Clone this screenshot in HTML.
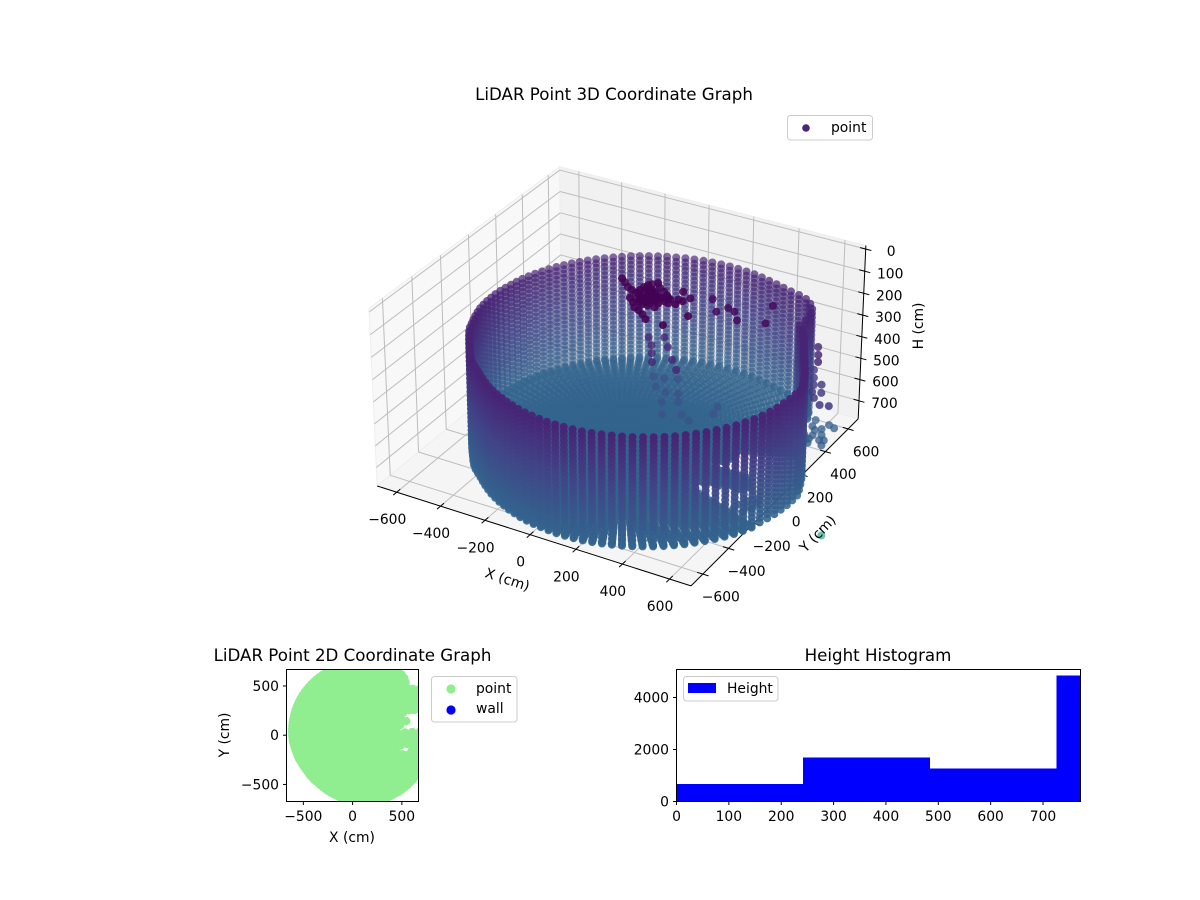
<!DOCTYPE html>
<html lang="en">
<head>
<meta charset="utf-8">
<title>LiDAR Point Graphs</title>
<style>
html,body{margin:0;padding:0;background:#fff;}
svg{display:block;}
text{font-family:"DejaVu Sans","Liberation Sans",sans-serif;font-size:13.89px;fill:#000;}
.title{font-size:16.67px;text-anchor:middle;}
.mid{text-anchor:middle;}
.end{text-anchor:end;}
</style>
</head>
<body>
<svg id="fig" xmlns="http://www.w3.org/2000/svg" width="1200" height="900" viewBox="0 0 1200 900">
  <defs>
    <clipPath id="clip2d"><rect x="286.5" y="669.5" width="132" height="132"/></clipPath>
  </defs>
  <rect x="0" y="0" width="1200" height="900" fill="#fff"/>
  <g id="panes3d"></g>
  <g id="grid3d"></g>
  <g id="axes3d"></g>
  <g id="points3d"></g>
  <text class="title" x="614" y="100">LiDAR Point 3D Coordinate Graph</text>
  <text class="mid" transform="translate(506 584) rotate(18)">X (cm)</text>
  <text class="mid" transform="translate(821 537) rotate(-46)">Y (cm)</text>
  <text class="mid" transform="translate(923 326) rotate(-90)">H (cm)</text>
  <g>
    <rect x="787.5" y="115.5" width="85" height="24.5" rx="3" fill="#fff" fill-opacity="0.8" stroke="#ccc"/>
    <circle cx="806" cy="128" r="3.8" fill="#47277c"/>
    <text x="831" y="132">point</text>
  </g>

  <g clip-path="url(#clip2d)"><g id="points2d"></g></g>
  <rect x="286.5" y="669.5" width="132" height="132" fill="none" stroke="#000" stroke-width="1"/>
  <g id="axes2d"></g>
  <text class="title" x="352.5" y="661">LiDAR Point 2D Coordinate Graph</text>
  <text class="mid" x="352" y="842">X (cm)</text>
  <text class="mid" transform="translate(229 735) rotate(-90)">Y (cm)</text>
  <g>
    <rect x="431.5" y="676.5" width="85.5" height="45.5" rx="3" fill="#fff" stroke="#ccc"/>
    <circle cx="451" cy="689" r="4.6" fill="#90ee90"/>
    <text x="476" y="693">point</text>
    <circle cx="451" cy="710" r="4.6" fill="#0000ff"/>
    <text x="476" y="713">wall</text>
  </g>

  <g id="bars" shape-rendering="crispEdges"></g>
  <rect x="676.5" y="669.5" width="404" height="132" fill="none" stroke="#000" stroke-width="1"/>
  <g id="axesHist"></g>
  <text class="title" x="878" y="661">Height Histogram</text>
  <g>
    <rect x="683.5" y="676.5" width="94.5" height="24.5" rx="3" fill="#fff" fill-opacity="0.8" stroke="#ccc"/>
    <rect x="688" y="683" width="28" height="10" fill="#0000ff"/>
    <text x="727" y="693">Height</text>
  </g>
</svg>
<script>
// ---------- data ----------
const xTicks3d = [-600, -400, -200, 0, 200, 400, 600];
const yTicks3d = [-600, -400, -200, 0, 200, 400, 600];
const zTicks3d = [0, 100, 200, 300, 400, 500, 600, 700];
const wallAngleDeg = [0,3,6,9,12,15,18,21,24,27,30,33,36,39,42,45,48,51,54,57,60,63,66,69,72,75,78,81,84,87,90,93,96,99,102,105,108,111,114,117,120,123,126,129,132,135,138,141,144,147,150,153,156,159,162,165,168,171,174,177,180,183,186,189,192,195,198,201,204,207,210,213,216,219,222,225,228,231,234,237,240,243,246,249,252,255,258,261,264,267,270,273,276,279,282,285,288,291,294,297,300,303,306,309,312,315,318,321,324,327,330,333,336,339,342,345,348,351,354,357];
const wallRadius = [770,759,748,738,727,717,708,702,699,698,699,700,698,696,
  730,761,781,790,791,782,770,762,757,752,749,746,742,738,734,730,725,721,716,712,706,702,697,692,687,683,678,673,669,665,660,656,652,649,645,641,638,635,632,629,625,622,620,618,616,613,611,609,607,603,600,597,595,595,593,589,587,586,586,587,590,593,595,595,596,600,605,610,616,621,627,632,639,645,652,658,664,670,677,684,690,697,703,708,713,718,724,729,733,738,743,747,751,754,758,761,765,768,770,772,773,773,773,772,772,771];
const floorNotchAngleDeg = [0,3,6,9,12,15,18,21,342,345,348,351,354,357];
const floorNotchRadius = [560,540,370,350,420,430,440,450,380,400,430,480,560,580];
const planNotchAngleDeg = [6,9,12,15,18,21,342,345,348,351];
const planNotchRadius = [430,410,490,495,505,515,440,470,500,560];
const ringHeights = [265,285,305,325,345,365,385,405,425,445,465,485,505,525,545,565,585,605,625,645,665,685,705,725,745];
const floorFractions = [0.03,0.05,0.08,0.1,0.13,0.15,0.18,0.2,0.23,0.25,0.28,0.3,0.33,0.35,0.38,0.4,0.43,0.45,0.48,0.5,0.53,0.55,0.58,0.6,0.63,0.65,0.68,0.7,0.73,0.75,0.78,0.8,0.83,0.85,0.88,0.9,0.93,0.95,0.98,1];
const floorHeight = 752;
const objectX = [-51,-26,3,28,52,54,56,62,71,87,112,141,167,191,200,180,150,130,105,96,98,77,79,81,51,104,128,157,186,140,170,167,124,117,139,118,227,239,253,203,313,265,218,
  90,60,100,120,140,160,110,90,130,150,80,70,100,140,180,
  278,338,363,398,439,543,503,
  52,92,123,158,105,153,216,267,
  -30,14,64,15,71,121,96,142,152,211,257,303,314,
  654,682,706,631,658,682,701,728,563,708,735,771,805,
  609,619,672,706,651,638,627,715,603,626,614,
  560,600,640,600,640,620,660,660,650,
  650,680,620,660,700,640,690,660,640,610];
const objectY = [89,68,40,28,16,43,71,93,106,125,96,76,55,35,4,10,29,34,46,33,-2,3,-30,-56,-29,-87,-99,-119,-146,-31,-49,-15,-31,9,4,-52,11,45,80,113,-46,-154,50,
  70,20,60,50,20,30,0,-20,-10,0,40,60,-40,-50,40,
  212,131,180,165,109,143,279,
  116,68,15,-45,146,86,8,-52,
  303,310,331,240,219,231,145,65,178,98,71,221,165,
  376,321,272,393,339,291,240,202,443,306,250,165,175,
  470,422,462,348,360,327,294,310,368,258,550,
  -200,-200,-200,-160,-160,-120,-120,-160,-90,
  330,380,350,420,450,300,340,300,400,320];
const objectH = [50,50,50,50,50,50,50,50,50,50,50,50,50,50,50,50,50,50,50,50,50,50,50,50,50,50,50,50,50,50,50,50,50,50,50,50,50,50,50,50,50,50,50,
  50,50,50,50,50,50,50,50,50,50,50,50,50,50,50,
  110,110,110,110,110,110,110,
  300,300,300,300,300,300,300,300,
  600,600,600,600,600,600,600,600,600,600,600,600,600,
  300,300,300,420,420,420,420,420,420,420,420,420,420,
  700,700,700,700,700,700,700,700,700,700,1300,
  752,752,752,752,752,752,752,752,752,
  700,700,700,700,700,700,700,700,700,700];
const discFractions = [0.02,0.1,0.2,0.3,0.4,0.5,0.6,0.7,0.8,0.9,1];
const xTicks2d = [-500, 0, 500];
const yTicks2d = [-500, 0, 500];
const histEdges = [0, 242, 484, 726, 772];
const histCounts = [680, 1690, 1270, 4846];
const histXTicks = [0, 100, 200, 300, 400, 500, 600, 700];
const histYTicks = [0, 2000, 4000];
const viridisStops = ["#440154","#482475","#414487","#355f8d","#2a788e","#21918c","#22a884","#44bf70","#7ad151","#bddf26","#fde725"];

// ---------- scales ----------
const SVGNS = "http://www.w3.org/2000/svg";
const XY_LIM = 690, H_MIN = -16, H_MAX = 786, HALF_Z = 0.57, DIST = 17.5;
function project3d(x, y, h) {
  const X = x / XY_LIM, Y = y / XY_LIM, Z = HALF_Z * (1 - 2 * (h - H_MIN) / (H_MAX - H_MIN));
  const u = 0.866 * X + 0.5 * Y;
  const v = -0.25 * X + 0.433 * Y + 0.866 * Z;
  const n = 0.433 * X - 0.75 * Y + 0.5 * Z;
  return { sx: 622 + 3130 * u / (DIST - n), sy: 365.5 - 3110 * v / (DIST - n), n: n };
}
function x2d(v) { return 352.6 + v * 0.0985; }
function y2d(v) { return 735.2 - v * 0.0985; }
function xHist(v) { return 676.5 + v * 0.5236; }
function yHist(v) { return 801.5 - v * 0.026; }
function hex(c) { return [parseInt(c.slice(1,3),16), parseInt(c.slice(3,5),16), parseInt(c.slice(5,7),16)]; }
function viridis(t) {
  t = Math.max(0, Math.min(1, t));
  const f = t * (viridisStops.length - 1), i = Math.min(Math.floor(f), viridisStops.length - 2), w = f - i;
  const a = hex(viridisStops[i]), b = hex(viridisStops[i + 1]);
  return "rgb(" + Math.round(a[0] + (b[0] - a[0]) * w) + "," + Math.round(a[1] + (b[1] - a[1]) * w) + "," + Math.round(a[2] + (b[2] - a[2]) * w) + ")";
}
function colorOfHeight(h) { return viridis((h - 45) / 2200); }
function fmt(v) { return String(v).replace("-", "\u2212"); }
function floorReach(i) {
  const k = floorNotchAngleDeg.indexOf(wallAngleDeg[i]);
  return k >= 0 ? floorNotchRadius[k] : wallRadius[i];
}
function planReach(i) {
  const k = planNotchAngleDeg.indexOf(wallAngleDeg[i]);
  return k >= 0 ? planNotchRadius[k] : wallRadius[i];
}

function drawLine(parent, name, x1, y1, x2, y2, stroke, width) {
  const el = document.createElementNS(SVGNS, "line");
  el.setAttribute("x1", x1.toFixed(2));
  el.setAttribute("y1", y1.toFixed(2));
  el.setAttribute("x2", x2.toFixed(2));
  el.setAttribute("y2", y2.toFixed(2));
  el.setAttribute("stroke", stroke);
  el.setAttribute("stroke-width", width);
  
  
  parent.appendChild(el);
}
function drawLabel(parent, name, x, y, str, anchor) {
  const el = document.createElementNS(SVGNS, "text");
  el.setAttribute("x", x.toFixed(2));
  el.setAttribute("y", y.toFixed(2));
  el.setAttribute("text-anchor", anchor);
  el.textContent = str;
  
  
  parent.appendChild(el);
}
function line3d(parent, name, a, b, stroke, width) {
  const p = project3d(a[0], a[1], a[2]), q = project3d(b[0], b[1], b[2]);
  drawLine(parent, name, p.sx, p.sy, q.sx, q.sy, stroke, width);
}
function pane(parent, name, corners, fill) {
  const el = document.createElementNS(SVGNS, "polygon");
  el.setAttribute("points", corners.map(function (c) { const p = project3d(c[0], c[1], c[2]); return p.sx.toFixed(1) + "," + p.sy.toFixed(1); }).join(" "));
  el.setAttribute("fill", fill);
  el.setAttribute("stroke", "#eeeeee");
  el.setAttribute("stroke-width", "1");
  
  
  parent.appendChild(el);
}

// ---------- 3D box ----------
const L = XY_LIM;
const panes3d = document.getElementById("panes3d");
pane(panes3d, "left-pane", [[-L,-L,H_MAX],[-L,L,H_MAX],[-L,L,H_MIN],[-L,-L,H_MIN]], "#f8f8f8");
pane(panes3d, "right-pane", [[-L,L,H_MAX],[L,L,H_MAX],[L,L,H_MIN],[-L,L,H_MIN]], "#f1f1f1");
pane(panes3d, "floor-pane", [[-L,-L,H_MAX],[L,-L,H_MAX],[L,L,H_MAX],[-L,L,H_MAX]], "#f5f5f5");

const grid3d = document.getElementById("grid3d");
const GRID = "#bdbdbd";
xTicks3d.forEach(function (t) {
  line3d(grid3d, "x-gridline-floor", [t,-L,H_MAX], [t,L,H_MAX], GRID, 1);
  line3d(grid3d, "x-gridline-wall", [t,L,H_MAX], [t,L,H_MIN], GRID, 1);
});
yTicks3d.forEach(function (t) {
  line3d(grid3d, "y-gridline-floor", [-L,t,H_MAX], [L,t,H_MAX], GRID, 1);
  line3d(grid3d, "y-gridline-wall", [-L,t,H_MAX], [-L,t,H_MIN], GRID, 1);
});
zTicks3d.forEach(function (t) {
  line3d(grid3d, "z-gridline-left", [-L,-L,t], [-L,L,t], GRID, 1);
  line3d(grid3d, "z-gridline-right", [-L,L,t], [L,L,t], GRID, 1);
});

const axes3d = document.getElementById("axes3d");
line3d(axes3d, "x-axis-line", [-L,-L,H_MAX], [L,-L,H_MAX], "#000", 1);
line3d(axes3d, "y-axis-line", [L,-L,H_MAX], [L,L,H_MAX], "#000", 1);
line3d(axes3d, "z-axis-line", [L,L,H_MAX], [L,L,H_MIN], "#000", 1);
xTicks3d.forEach(function (t) {
  line3d(axes3d, "x-tick", [t,-L-24,H_MAX], [t,-L+24,H_MAX], "#000", 1);
  const p = project3d(t, -L, H_MAX);
  drawLabel(axes3d, "x-tick-label", p.sx - 9.5, p.sy + 32, fmt(t), "middle");
});
yTicks3d.forEach(function (t) {
  line3d(axes3d, "y-tick", [L-24,t,H_MAX], [L+24,t,H_MAX], "#000", 1);
  const p = project3d(L, t, H_MAX);
  drawLabel(axes3d, "y-tick-label", p.sx + 18, p.sy + 27.5, fmt(t), "middle");
});
zTicks3d.forEach(function (t) {
  line3d(axes3d, "z-tick", [L-24,L,t], [L+24,L,t], "#000", 1);
  const p = project3d(L, L, t);
  drawLabel(axes3d, "z-tick-label", p.sx + 25.5, p.sy + 7, fmt(t), "middle");
});

// ---------- 3D points ----------
const pts = [];
wallAngleDeg.forEach(function (deg, i) {
  const c = Math.cos(deg * Math.PI / 180), s = Math.sin(deg * Math.PI / 180), r = wallRadius[i], reach = floorReach(i);
  ringHeights.forEach(function (h) { pts.push([r * c, r * s, h]); });
  floorFractions.forEach(function (f) { pts.push([reach * f * c, reach * f * s, floorHeight]); });
});
objectX.forEach(function (x, i) { pts.push([x, objectY[i], objectH[i]]); });
const projected = pts.map(function (p) {
  const q = project3d(p[0], p[1], p[2]);
  return { sx: q.sx, sy: q.sy, n: q.n, h: p[2] };
});
projected.sort(function (a, b) { return a.n - b.n; });
const nMin = projected[0].n, nMax = projected[projected.length - 1].n;
const points3d = document.getElementById("points3d");
projected.forEach(function (p) {
  const el = document.createElementNS(SVGNS, "circle");
  el.setAttribute("cx", p.sx.toFixed(1));
  el.setAttribute("cy", p.sy.toFixed(1));
  el.setAttribute("r", "4");
  el.setAttribute("fill", colorOfHeight(p.h));
  el.setAttribute("fill-opacity", (0.6 + 0.4 * (p.n - nMin) / (nMax - nMin)).toFixed(2));
  
  
  points3d.appendChild(el);
});

// ---------- 2D scatter ----------
const points2d = document.getElementById("points2d");
wallAngleDeg.forEach(function (deg, i) {
  const c = Math.cos(deg * Math.PI / 180), s = Math.sin(deg * Math.PI / 180), reach = planReach(i);
  discFractions.forEach(function (f) {
    const el = document.createElementNS(SVGNS, "circle");
    el.setAttribute("cx", x2d(reach * f * c).toFixed(1));
    el.setAttribute("cy", y2d(reach * f * s).toFixed(1));
    el.setAttribute("r", "4.3");
    el.setAttribute("fill", "#90ee90");
    
    
    points2d.appendChild(el);
  });
});
objectX.forEach(function (x, i) {
  if (objectH[i] > H_MAX) return;
  const el = document.createElementNS(SVGNS, "circle");
  el.setAttribute("cx", x2d(x).toFixed(1));
  el.setAttribute("cy", y2d(objectY[i]).toFixed(1));
  el.setAttribute("r", "4.3");
  el.setAttribute("fill", "#90ee90");
  
  
  points2d.appendChild(el);
});
const axes2d = document.getElementById("axes2d");
xTicks2d.forEach(function (t) {
  drawLine(axes2d, "2d-x-tick", x2d(t), 801.5, x2d(t), 805, "#000", 1);
  drawLabel(axes2d, "2d-x-tick-label", x2d(t), 821, fmt(t), "middle");
});
yTicks2d.forEach(function (t) {
  drawLine(axes2d, "2d-y-tick", 286.5, y2d(t), 283, y2d(t), "#000", 1);
  drawLabel(axes2d, "2d-y-tick-label", 279, y2d(t) + 5, fmt(t), "end");
});

// ---------- histogram ----------
const bars = document.getElementById("bars");
histCounts.forEach(function (count, i) {
  const el = document.createElementNS(SVGNS, "rect");
  el.setAttribute("x", xHist(histEdges[i]).toFixed(2));
  el.setAttribute("y", yHist(count).toFixed(2));
  el.setAttribute("width", (xHist(histEdges[i + 1]) - xHist(histEdges[i])).toFixed(2));
  el.setAttribute("height", (yHist(0) - yHist(count)).toFixed(2));
  el.setAttribute("fill", "#0000ff");
  
  
  bars.appendChild(el);
});
const axesHist = document.getElementById("axesHist");
histXTicks.forEach(function (t) {
  drawLine(axesHist, "histogram-x-tick", xHist(t), 801.5, xHist(t), 805, "#000", 1);
  drawLabel(axesHist, "histogram-x-tick-label", xHist(t), 821, fmt(t), "middle");
});
histYTicks.forEach(function (t) {
  drawLine(axesHist, "histogram-y-tick", 676.5, yHist(t), 673, yHist(t), "#000", 1);
  drawLabel(axesHist, "histogram-y-tick-label", 669, yHist(t) + 5, fmt(t), "end");
});
</script>
</body>
</html>
